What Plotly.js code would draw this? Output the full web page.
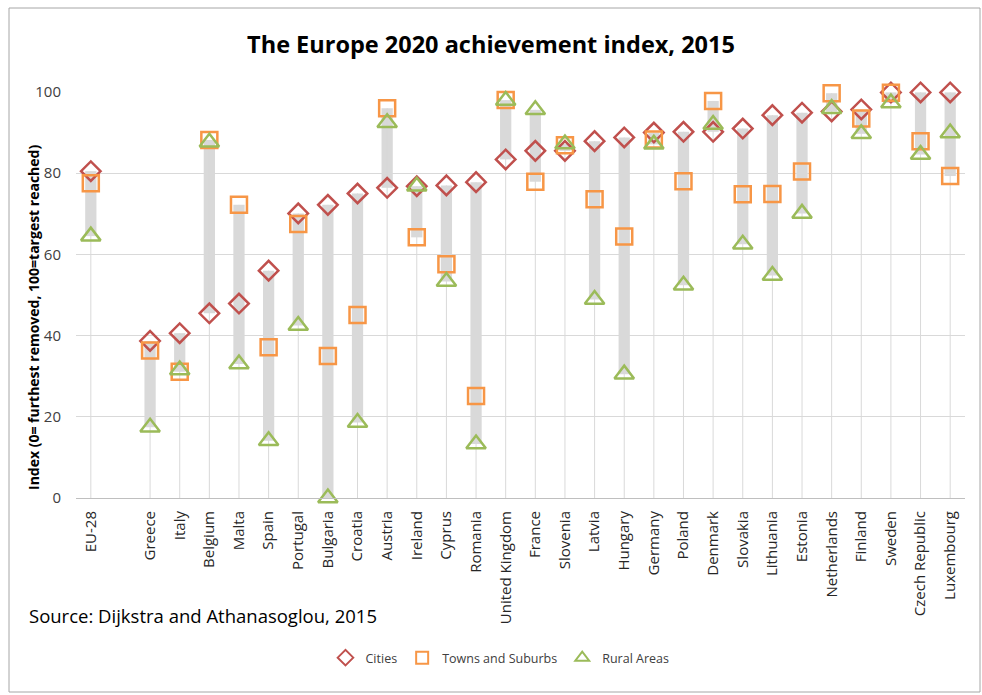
<!DOCTYPE html>
<html>
<head>
<meta charset="utf-8">
<script src="https://cdn.plot.ly/plotly-3.0.1.min.js"></script>
<style>
  html, body { margin: 0; padding: 0; background: #ffffff; }
  #chart { width: 982px; height: 695px; }
</style>
</head>
<body>
<div id="chart"></div>
<script>
// ---- Data ----
const categories = ["EU-28", "", "Greece", "Italy", "Belgium", "Malta", "Spain", "Portugal", "Bulgaria",
  "Croatia", "Austria", "Ireland", "Cyprus", "Romania", "United Kingdom", "France", "Slovenia", "Latvia",
  "Hungary", "Germany", "Poland", "Denmark", "Slovakia", "Lithuania", "Estonia", "Netherlands", "Finland",
  "Sweden", "Czech Republic", "Luxembourg"];

const cities = [80.5, null, 38.7, 40.6, 45.5, 47.9, 56.0, 70.1, 72.2,
  75.0, 76.4, 76.8, 77.0, 77.8, 83.4, 85.5, 85.5, 87.9,
  88.8, 90.0, 90.2, 90.2, 91.0, 94.3, 94.9, 95.2, 95.7,
  99.9, 99.9, 99.9];

const towns = [77.5, null, 36.3, 31.1, 88.2, 72.2, 37.1, 67.5, 35.0,
  45.1, 96.0, 64.2, 57.6, 25.1, 98.0, 77.9, 86.9, 73.6,
  64.4, 88.3, 78.0, 97.8, 74.8, 74.9, 80.4, 99.7, 93.5,
  99.8, 87.9, 79.3];

const rural = [64.5, null, 17.4, 31.5, 87.6, 33.0, 14.1, 42.5, 0.0,
  18.6, 92.4, 76.8, 53.3, 13.3, 97.9, 95.6, 87.2, 48.9,
  30.5, 87.1, 52.4, 92.0, 62.5, 54.8, 70.1, 95.9, 89.7,
  97.3, 84.6, 89.9];

const seriesNames = ["Cities", "Towns and Suburbs", "Rural Areas"];
const yTicks = [0, 20, 40, 60, 80, 100];

// ---- Derived positions ----
const xs = categories.map((c, i) => i);
const tickIdx = xs.filter(i => categories[i] !== "");
const tickText = tickIdx.map(i => categories[i]);

const maxV = xs.map(i => cities[i] === null ? null : Math.max(cities[i], towns[i], rural[i]));
const minV = xs.map(i => cities[i] === null ? null : Math.min(cities[i], towns[i], rural[i]));

const dropX = [], dropY = [];
xs.forEach(i => {
  if (maxV[i] !== null) { dropX.push(i, i, null); dropY.push(0, maxV[i], null); }
});

const grey = "#D9D9D9";
const font = "Open Sans, Noto Sans, Liberation Sans, sans-serif";

const traces = [
  {
    type: "scatter", mode: "lines", x: dropX, y: dropY,
    line: { color: grey, width: 1 }, showlegend: false, hoverinfo: "skip"
  },
  {
    type: "bar", x: xs, base: minV,
    y: xs.map(i => maxV[i] === null ? null : maxV[i] - minV[i]),
    width: 0.38, marker: { color: grey, line: { width: 0 } },
    showlegend: false, hoverinfo: "skip"
  },
  {
    type: "scatter", mode: "markers", name: seriesNames[0], x: xs, y: cities,
    marker: { symbol: "diamond-open", size: 15, color: "#C0504D", line: { width: 2.5, color: "#C0504D" } },
    cliponaxis: false
  },
  {
    type: "scatter", mode: "markers", name: seriesNames[1], x: xs, y: towns,
    marker: { symbol: "square-open", size: 16, color: "#F79646", line: { width: 2.5, color: "#F79646" } },
    cliponaxis: false
  },
  {
    type: "scatter", mode: "markers", name: seriesNames[2], x: xs, y: rural,
    marker: { symbol: "triangle-up-open", size: 17, color: "#9BBB59", line: { width: 2.5, color: "#9BBB59" } },
    cliponaxis: false
  }
];

const L = 76, R = 17, T = 92, B = 197;
const W = 982 - L - R, H = 695 - T - B;
const px = x => (x - L) / W;
const py = y => (695 - B - y) / H;

const layout = {
  width: 982, height: 695,
  margin: { l: L, r: R, t: T, b: B, pad: 0 },
  paper_bgcolor: "#ffffff", plot_bgcolor: "#ffffff",
  font: { family: font, color: "#404040" },
  title: {
    text: "<b>The Europe 2020 achievement index, 2015</b>",
    font: { family: font, size: 23.5, color: "#000000" },
    x: 0.5, xanchor: "center", xref: "container",
    y: 1 - 45 / 695, yanchor: "middle", yref: "container"
  },
  showlegend: true,
  legend: {
    orientation: "h", x: px(500), xanchor: "center", y: py(658), yanchor: "middle",
    font: { family: font, size: 12.5, color: "#404040" },
    itemsizing: "constant", itemwidth: 30, bgcolor: "rgba(0,0,0,0)"
  },
  xaxis: {
    type: "linear", range: [-0.5, categories.length - 0.5],
    tickmode: "array", tickvals: tickIdx, ticktext: tickText,
    tickangle: -90, tickfont: { family: font, size: 15, color: "#262626" },
    showgrid: false, zeroline: false,
    showline: true, linecolor: "#BFBFBF", linewidth: 1,
    ticks: "", ticklabelstandoff: 6, fixedrange: true
  },
  yaxis: {
    range: [0, 100], tickmode: "array", tickvals: yTicks,
    tickfont: { family: font, size: 15, color: "#404040" },
    showgrid: true, gridcolor: grey, gridwidth: 1,
    zeroline: false, showline: false, ticks: "", ticklabelstandoff: 14, fixedrange: true
  },
  barmode: "overlay",
  annotations: [
    {
      text: "<b>Index (0= furthest removed, 100=targest reached)</b>",
      xref: "paper", yref: "paper", x: px(33), y: py(318),
      xanchor: "center", yanchor: "middle", textangle: -90, showarrow: false,
      font: { family: font, size: 14, color: "#000000" }
    },
    {
      text: "Source: Dijkstra and Athanasoglou, 2015",
      xref: "paper", yref: "paper", x: px(27), y: py(615),
      xanchor: "left", yanchor: "middle", showarrow: false,
      font: { family: font, size: 18.5, color: "#000000" }
    }
  ],
  shapes: [
    {
      type: "rect", xref: "paper", yref: "paper",
      x0: px(9), x1: px(980), y0: py(692), y1: py(8),
      line: { color: "#A6A6A6", width: 1 }, fillcolor: "rgba(0,0,0,0)", layer: "below"
    }
  ]
};

Plotly.newPlot("chart", traces, layout, { displayModeBar: false, staticPlot: true });
</script>
</body>
</html>
